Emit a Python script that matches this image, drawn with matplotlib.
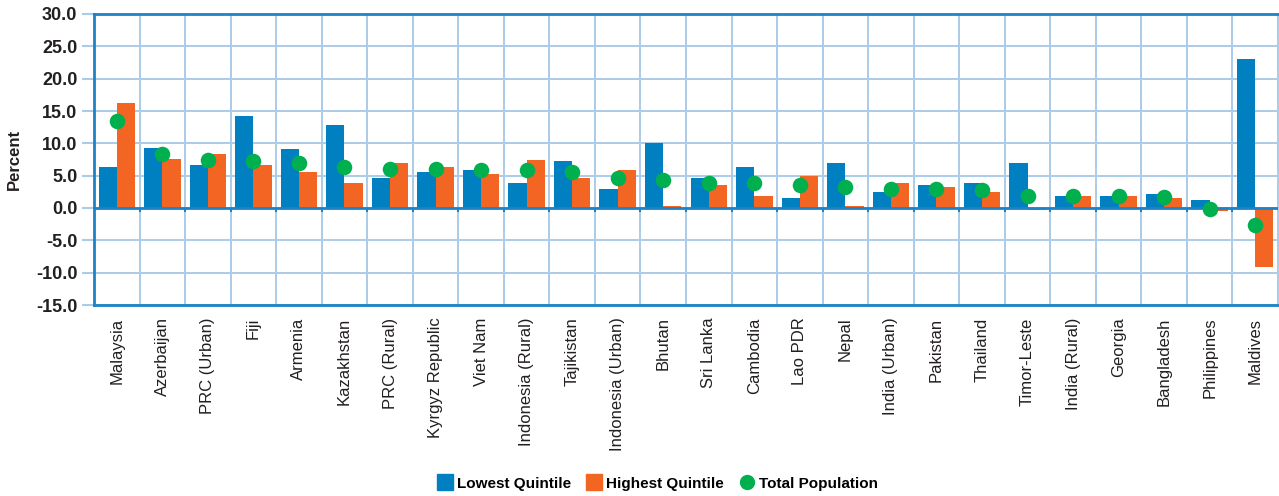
import matplotlib
matplotlib.use("Agg")
import matplotlib.pyplot as plt
from matplotlib.lines import Line2D
import numpy as np

categories = ["Malaysia", "Azerbaijan", "PRC (Urban)", "Fiji", "Armenia", "Kazakhstan",
              "PRC (Rural)", "Kyrgyz Republic", "Viet Nam", "Indonesia (Rural)", "Tajikistan",
              "Indonesia (Urban)", "Bhutan", "Sri Lanka", "Cambodia", "Lao PDR", "Nepal",
              "India (Urban)", "Pakistan", "Thailand", "Timor-Leste", "India (Rural)",
              "Georgia", "Bangladesh", "Philippines", "Maldives"]
lowest = [6.4, 9.3, 6.6, 14.3, 9.2, 12.9, 4.6, 5.6, 5.8, 3.9, 7.2, 2.9, 10.0, 4.6, 6.3,
          1.6, 6.9, 2.4, 3.5, 3.8, 6.9, 1.9, 1.9, 2.1, 1.2, 23.1]
highest = [16.3, 7.6, 8.4, 6.7, 5.5, 3.9, 6.9, 6.3, 5.3, 7.5, 4.6, 5.8, 0.3, 3.6, 1.9,
           4.9, 0.3, 3.8, 3.2, 2.4, -0.3, 1.8, 1.9, 1.6, -0.4, -9.1]
total = [13.4, 8.3, 7.5, 7.2, 6.9, 6.4, 6.1, 6.0, 5.8, 5.8, 5.6, 4.7, 4.3, 3.8, 3.8,
         3.5, 3.3, 3.0, 3.0, 2.8, 1.9, 1.9, 1.8, 1.7, -0.1, -2.6]
yticks = [-15, -10, -5, 0, 5, 10, 15, 20, 25, 30]

BLUE = "#0080C0"
ORANGE = "#F26522"
GREEN = "#00B04F"
SPINE = "#1B83C6"
GRID = "#A9CCEA"
TEXT = "#231F20"
FONT = ["Liberation Sans", "DejaVu Sans"]

plt.rcParams['font.family'] = FONT

fig = plt.figure(figsize=(12.79, 4.96), dpi=100)
ax = fig.add_axes([94/1279, (496-305)/496, (1278-94)/1279, (305-14)/496])

x = np.arange(len(categories))
w = 0.4
ax.bar(x - w/2, lowest, width=w, color=BLUE, zorder=3)
ax.bar(x + w/2, highest, width=w, color=ORANGE, zorder=3)
ax.scatter(x, total, s=125, color=GREEN, zorder=5, linewidths=0)

ax.set_xlim(-0.5, len(categories) - 0.5)
ax.set_ylim(-15, 30)
ax.set_yticks(yticks)
ax.set_yticklabels([f"{v:.1f}" for v in yticks], fontsize=13, fontweight='bold', color=TEXT)
ax.set_xticks(x)
ax.set_xticklabels(categories, rotation=90, fontsize=12, color=TEXT)
ax.set_xticks(np.arange(len(categories) + 1) - 0.5, minor=True)
ax.tick_params(axis='x', which='major', length=0, pad=9)
ax.tick_params(axis='x', which='minor', length=0)
ax.tick_params(axis='y', length=9, width=1.5, color=GRID, pad=3)

ax.grid(axis='y', which='major', color=GRID, linewidth=1.4, zorder=0)
ax.grid(axis='x', which='minor', color=GRID, linewidth=1.4, zorder=0)

for s in ['top', 'bottom', 'left']:
    ax.spines[s].set_color(SPINE)
    ax.spines[s].set_linewidth(2)
ax.spines['right'].set_color(GRID)
ax.spines['right'].set_linewidth(1.4)

ax.axhline(0, color=SPINE, linewidth=2, zorder=4)
ax.vlines(np.arange(1, len(categories)) - 0.5, -0.6, 0, color=SPINE, linewidth=1.5, zorder=4)

ax.set_ylabel("Percent", fontsize=12, fontweight='bold', color=TEXT)
ax.yaxis.set_label_coords(-72/1184, 0.5)

handles = [Line2D([], [], marker='s', linestyle='none', markersize=11, color=BLUE),
           Line2D([], [], marker='s', linestyle='none', markersize=11, color=ORANGE),
           Line2D([], [], marker='o', linestyle='none', markersize=10, color=GREEN)]
fig.legend(handles, ["Lowest Quintile", "Highest Quintile", "Total Population"],
           loc='center', bbox_to_anchor=(0.514, 0.025), ncol=3, frameon=False,
           prop={'family': FONT, 'size': 11, 'weight': 'bold'},
           handletextpad=0.3, columnspacing=1.0, handlelength=1.0)

fig.savefig("out.png", dpi=100)
